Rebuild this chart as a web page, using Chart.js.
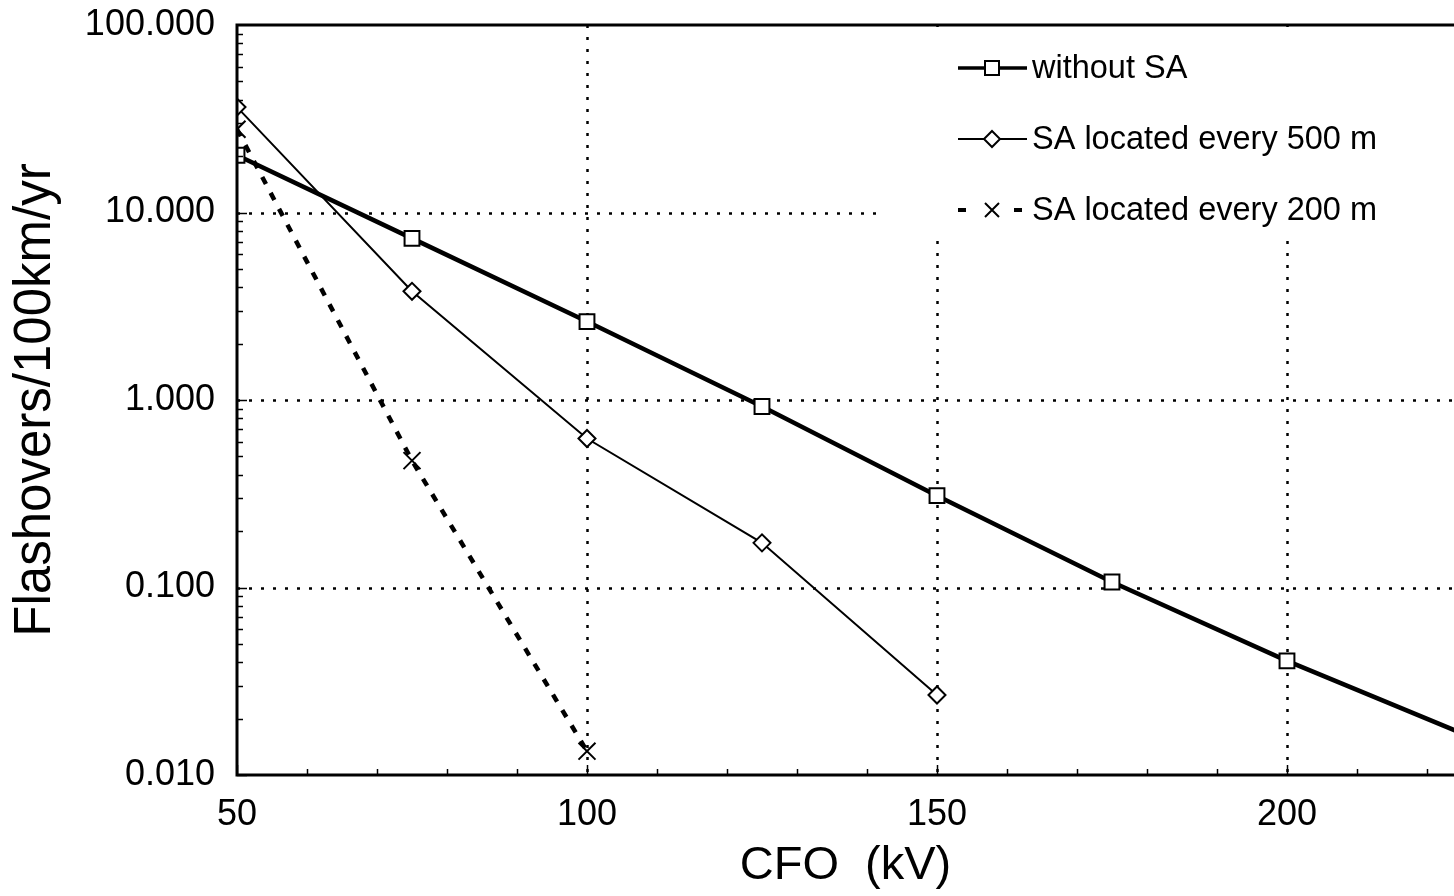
<!DOCTYPE html>
<html><head><meta charset="utf-8">
<script src="https://cdn.jsdelivr.net/npm/chart.js@4"></script>
<style>html,body{margin:0;padding:0;background:#fff;overflow:hidden}canvas{display:block}</style>
</head><body>
<canvas id="c" width="1454" height="896"></canvas>
<script>
// ---- data ----
const cfoWithout = [50, 75, 100, 125, 150, 175, 200, 225];
const withoutSA  = [20.2, 7.28, 2.62, 0.923, 0.309, 0.107, 0.0406, 0.0167];
const cfo500 = [50, 75, 100, 125, 150];
const sa500  = [36.5, 3.80, 0.623, 0.173, 0.0267];
const cfo200 = [50, 75, 100];
const sa200  = [27.8, 0.475, 0.0134];
const xTickLabels = [50, 100, 150, 200];
const yTickLabels = [0.01, 0.1, 1, 10, 100];
const xGridValues = [100, 150, 200];
const yGridValues = [0.1, 1, 10];
const seriesNames = ['without SA', 'SA located every 500 m', 'SA located every 200 m'];

const FONT = '"Liberation Sans", Arial, Helvetica, sans-serif';
const pts = (xs, ys) => xs.map((v, i) => ({x: v, y: ys[i]}));

const decor = {
  id: 'decor',
  beforeDatasetsDraw(chart) {
    const {ctx, chartArea: a, scales: {x, y}} = chart;
    ctx.save();
    ctx.strokeStyle = '#000';
    ctx.lineWidth = 2.5;
    ctx.setLineDash([3, 9]);
    xGridValues.forEach(v => {
      const px = Math.round(x.getPixelForValue(v)) + 0.5;
      ctx.beginPath(); ctx.moveTo(px, a.top); ctx.lineTo(px, a.bottom); ctx.stroke();
    });
    yGridValues.forEach(v => {
      const py = Math.round(y.getPixelForValue(v)) + 0.5;
      ctx.beginPath(); ctx.moveTo(a.left, py); ctx.lineTo(a.right, py); ctx.stroke();
    });
    ctx.setLineDash([]);
    // legend backdrop
    ctx.fillStyle = '#fff';
    ctx.fillRect(878, a.top + 2, a.right - 878, 238 - a.top);
    ctx.restore();
  },
  afterDatasetsDraw(chart) {
    const {ctx, chartArea: a, scales: {x, y}} = chart;
    ctx.save();
    ctx.strokeStyle = '#000';
    ctx.lineWidth = 1.5;
    for (let v = 50; v <= x.max; v += 10) {
      const px = Math.round(x.getPixelForValue(v)) + 0.5;
      const len = (v % 50 === 0) ? 10 : 6;
      ctx.beginPath(); ctx.moveTo(px, a.bottom); ctx.lineTo(px, a.bottom - len); ctx.stroke();
    }
    for (let d = -2; d <= 1; d++) {
      for (let m = 1; m <= 9; m++) {
        const v = m * Math.pow(10, d);
        const py = Math.round(y.getPixelForValue(v)) + 0.5;
        const len = m === 1 ? 10 : 6;
        ctx.beginPath(); ctx.moveTo(a.left, py); ctx.lineTo(a.left + len, py); ctx.stroke();
      }
    }
    ctx.lineWidth = 3;
    ctx.beginPath();
    ctx.moveTo(a.right + 2, a.top);
    ctx.lineTo(a.left, a.top);
    ctx.lineTo(a.left, a.bottom);
    ctx.lineTo(a.right + 2, a.bottom);
    ctx.stroke();
    ctx.restore();
  },
  afterDraw(chart) {
    const ctx = chart.ctx;
    const rows = [68, 139, 210];
    const x0 = 958, x1 = 1027, mx = 992, tx = 1032;
    ctx.save();
    ctx.strokeStyle = '#000';
    ctx.lineWidth = 3.5;
    ctx.beginPath(); ctx.moveTo(x0, rows[0]); ctx.lineTo(x1, rows[0]); ctx.stroke();
    ctx.lineWidth = 2;
    ctx.fillStyle = '#fff';
    ctx.fillRect(mx - 7, rows[0] - 7, 14, 14);
    ctx.strokeRect(mx - 7, rows[0] - 7, 14, 14);
    ctx.lineWidth = 2;
    ctx.beginPath(); ctx.moveTo(x0, rows[1]); ctx.lineTo(x1, rows[1]); ctx.stroke();
    ctx.beginPath();
    ctx.moveTo(mx, rows[1] - 8); ctx.lineTo(mx + 8, rows[1]); ctx.lineTo(mx, rows[1] + 8); ctx.lineTo(mx - 8, rows[1]);
    ctx.closePath(); ctx.fill(); ctx.stroke();
    ctx.lineWidth = 4;
    ctx.beginPath(); ctx.moveTo(x0, rows[2]); ctx.lineTo(x0 + 8, rows[2]); ctx.stroke();
    ctx.beginPath(); ctx.moveTo(1014, rows[2]); ctx.lineTo(1022, rows[2]); ctx.stroke();
    ctx.lineWidth = 2;
    ctx.beginPath();
    ctx.moveTo(mx - 7, rows[2] - 7); ctx.lineTo(mx + 7, rows[2] + 7);
    ctx.moveTo(mx + 7, rows[2] - 7); ctx.lineTo(mx - 7, rows[2] + 7);
    ctx.stroke();
    ctx.fillStyle = '#000';
    ctx.font = '32.5px ' + FONT;
    ctx.textBaseline = 'middle';
    ctx.textAlign = 'left';
    seriesNames.forEach((t, i) => ctx.fillText(t, tx, rows[i] + 1));
    ctx.restore();
  }
};

new Chart(document.getElementById('c'), {
  type: 'line',
  data: {
    datasets: [
      {
        label: seriesNames[0], data: pts(cfoWithout, withoutSA),
        borderColor: '#000', borderWidth: 4.5, tension: 0,
        pointStyle: 'rect', pointRadius: cfoWithout.map(v => v > 200 ? 0 : 10.5),
        pointBorderWidth: 2, pointBorderColor: '#000', pointBackgroundColor: '#fff'
      },
      {
        label: seriesNames[1], data: pts(cfo500, sa500),
        borderColor: '#000', borderWidth: 2, tension: 0,
        pointStyle: 'rectRot', pointRadius: 8.5,
        pointBorderWidth: 2, pointBorderColor: '#000', pointBackgroundColor: '#fff'
      },
      {
        label: seriesNames[2], data: pts(cfo200, sa200),
        borderColor: '#000', borderWidth: 4.5, borderDash: [8, 10], tension: 0,
        pointStyle: 'crossRot', pointRadius: 12,
        pointBorderWidth: 2, pointBorderColor: '#000', pointBackgroundColor: '#000'
      }
    ]
  },
  options: {
    responsive: false,
    animation: false,
    devicePixelRatio: 1,
    layout: {padding: {top: 25, left: 0, right: 0, bottom: 0}, autoPadding: false},
    plugins: {legend: {display: false}, tooltip: {enabled: false}},
    scales: {
      x: {
        type: 'linear', min: 50, max: 223.86,
        afterBuildTicks: s => { s.ticks = xTickLabels.map(v => ({value: v})); },
        afterFit: s => { s.height = 121; s.paddingLeft = 0; s.paddingRight = 0; },
        grid: {display: false, drawTicks: false},
        border: {display: false},
        ticks: {color: '#000', font: {family: FONT, size: 36}, padding: 18, maxRotation: 0, autoSkip: false},
        title: {display: true, text: 'CFO  (kV)', color: '#000', font: {family: FONT, size: 47, lineHeight: 1}, padding: {top: 0, bottom: 6}}
      },
      y: {
        type: 'logarithmic', min: 0.01, max: 100,
        afterBuildTicks: s => { s.ticks = yTickLabels.map(v => ({value: v})); },
        afterFit: s => { s.width = 237; s.paddingTop = 0; s.paddingBottom = 0; },
        grid: {display: false, drawTicks: false},
        border: {display: false},
        ticks: {color: '#000', font: {family: FONT, size: 36}, padding: 22, autoSkip: false,
                callback: v => Number(v).toFixed(3)},
        title: {display: true, text: 'Flashovers/100km/yr', color: '#000', font: {family: FONT, size: 51, lineHeight: 1}, padding: {top: 10, bottom: 0}}
      }
    }
  },
  plugins: [decor]
});
</script>
</body></html>
